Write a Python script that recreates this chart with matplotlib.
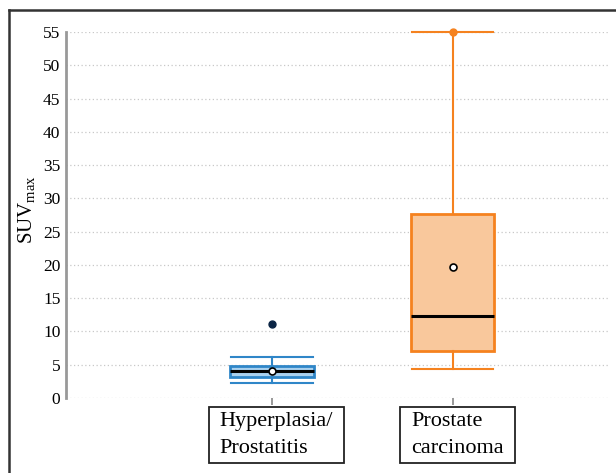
import matplotlib.pyplot as plt
from matplotlib.lines import Line2D
from matplotlib.path import Path

# Data
categories = ['Hyperplasia/\nProstatitis', 'Prostate\ncarcinoma']
q1 = [3.2, 7.1]
med = [4.1, 12.3]
q3 = [4.8, 27.6]
whislo = [2.3, 4.4]
whishi = [6.2, 55.0]
means = [4.1, 19.7]
fliers = [[11.1], [55.0]]
yticks = list(range(0, 56, 5))

edge_colors = ['#2f86c8', '#f5821f']
fill_colors = ['#a9d1ef', '#f9c89c']
flier_colors = ['#0b2545', '#f5821f']

plt.rcParams['font.family'] = ['Liberation Serif', 'DejaVu Serif']
plt.rcParams['mathtext.fontset'] = 'custom'
plt.rcParams['mathtext.rm'] = 'Liberation Serif'

fig = plt.figure(figsize=(6.16, 4.73), dpi=100)
W, H = 616, 473
ax = fig.add_axes([66 / W, 1 - 398 / H, (610 - 66) / W, (398 - 32) / H])

positions = [1, 2]
for i in range(2):
    stats = [dict(q1=q1[i], med=med[i], q3=q3[i], whislo=whislo[i],
                  whishi=whishi[i], mean=means[i], fliers=fliers[i])]
    ax.bxp(stats, positions=[positions[i]], widths=0.46, patch_artist=True,
           showmeans=True, showfliers=True,
           boxprops=dict(facecolor=fill_colors[i], edgecolor=edge_colors[i], linewidth=2),
           whiskerprops=dict(color=edge_colors[i], linewidth=1.5),
           capprops=dict(color=edge_colors[i], linewidth=1.5),
           capwidths=0.45,
           medianprops=dict(color='black', linewidth=2.2),
           meanprops=dict(marker='o', markerfacecolor='white', markeredgecolor='black',
                          markersize=5, markeredgewidth=1.2),
           flierprops=dict(marker='o', markerfacecolor=flier_colors[i],
                           markeredgecolor=flier_colors[i], markersize=5))

for art in ax.get_children():
    if isinstance(art, Line2D):
        art.set_clip_on(False)

ax.set_xlim(-0.14, 2.87)
ax.set_ylim(0, 55)
ax.set_yticks(yticks)
ax.tick_params(axis='y', length=0, pad=4, labelsize=12.5)
ax.set_xticks(positions)
ax.set_xticklabels([])
ax.tick_params(axis='x', length=5, color='#888888', width=1.2)
ax.grid(axis='y', linestyle=(0, (1, 2)), color='#c8c8c8', linewidth=0.9)
ax.set_axisbelow(True)
for s in ['top', 'right', 'bottom']:
    ax.spines[s].set_visible(False)
ax.spines['left'].set_color('#999999')
ax.spines['left'].set_linewidth(2)

ax.set_ylabel(r'$\mathrm{SUV}_{\mathrm{max}}$', fontsize=15, labelpad=4)
ax.yaxis.label.set_y(0.514)


def label_box(x0, y0, width, height, mutation_size):
    px = 0.5 * mutation_size
    py = 0.2 * mutation_size
    verts = [(x0 - px, y0 - py), (x0 + width + px, y0 - py),
             (x0 + width + px, y0 + height + py), (x0 - px, y0 + height + py),
             (x0 - px, y0 - py)]
    return Path(verts, closed=True)


for i, lab in enumerate(categories):
    ax.annotate(lab, xy=(positions[i] + 0.025, 0), xycoords='data',
                xytext=(0, -10), textcoords='offset points',
                ha='center', va='top', multialignment='left', fontsize=16,
                linespacing=1.6, annotation_clip=False,
                bbox=dict(boxstyle=label_box, facecolor='white',
                          edgecolor='#222222', linewidth=1.3))

# outer frame lines (top and left)
fig.add_artist(Line2D([9 / W, 1], [1 - 10 / H, 1 - 10 / H], color='#333333', linewidth=1.8,
                      transform=fig.transFigure))
fig.add_artist(Line2D([9 / W, 9 / W], [0, 1 - 10 / H], color='#333333', linewidth=1.8,
                      transform=fig.transFigure))

fig.savefig('out.png', dpi=100)
